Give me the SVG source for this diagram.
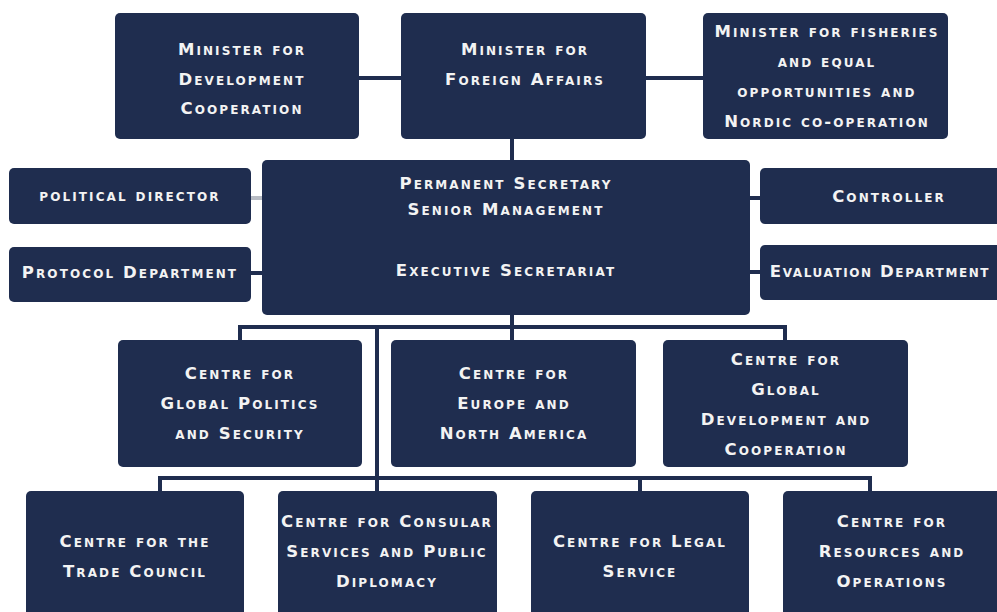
<svg xmlns="http://www.w3.org/2000/svg" width="997" height="612" viewBox="0 0 997 612">
<style>
.box{fill:#1f2d4f;}
.t{font-family:"DejaVu Sans","Liberation Sans",sans-serif;font-weight:bold;font-size:16.5px;font-variant:small-caps;letter-spacing:2.1px;fill:#f3f3f3;text-anchor:middle;}
.c{fill:none;stroke:#1f2d4f;stroke-width:4;stroke-linecap:square;stroke-linejoin:miter;}
.g{fill:none;stroke:#b8bcc4;stroke-width:4;}
</style>
<rect width="997" height="612" fill="#ffffff"/>
<g id="connectors">
<path class="c" d="M359 78H401M646 78H703M512 139V160"/>
<path class="g" d="M251 198H262"/>
<path class="c" d="M251 273H262M750 198H760M750 272H760"/>
<path class="c" d="M512 315V327M240 340V327H785V340M512 327V340M377 327V478"/>
<path class="c" d="M160 491V478H870V491M377 478V491M640 478V491"/>
</g>
<g id="min-dev"><rect class="box" x="115" y="13" width="244" height="126" rx="5"/>
<text class="t" x="242" y="55">Minister for</text><text class="t" x="242" y="85">Development</text><text class="t" x="242" y="114">Cooperation</text></g>
<g id="min-foreign"><rect class="box" x="401" y="13" width="245" height="126" rx="5"/>
<text class="t" x="525" y="55">Minister for</text><text class="t" x="525" y="85">Foreign Affairs</text></g>
<g id="min-fish"><rect class="box" x="703" y="13" width="245" height="126" rx="5"/>
<text class="t" x="827" y="37">Minister for fisheries</text><text class="t" x="827" y="67">and equal</text><text class="t" x="827" y="97">opportunities and</text><text class="t" x="827" y="127">Nordic co-operation</text></g>
<g id="perm-sec"><rect class="box" x="262" y="160" width="488" height="155" rx="5"/>
<text class="t" x="506" y="189">Permanent Secretary</text><text class="t" x="506" y="215">Senior Management</text><text class="t" x="506" y="276">Executive Secretariat</text></g>
<g id="political"><rect class="box" x="9" y="168" width="242" height="56" rx="5"/>
<text class="t" x="130" y="201">political director</text></g>
<g id="protocol"><rect class="box" x="9" y="247" width="242" height="55" rx="5"/>
<text class="t" x="130" y="278">Protocol Department</text></g>
<g id="controller"><rect class="box" x="760" y="168" width="260" height="56" rx="5"/>
<text class="t" x="889" y="202">Controller</text></g>
<g id="evaluation"><rect class="box" x="760" y="245" width="260" height="55" rx="5"/>
<text class="t" x="880" y="277" style="letter-spacing:1.6px">Evaluation Department</text></g>
<g id="c-global"><rect class="box" x="118" y="340" width="244" height="127" rx="5"/>
<text class="t" x="240" y="379">Centre for</text><text class="t" x="240" y="409">Global Politics</text><text class="t" x="240" y="439">and Security</text></g>
<g id="c-europe"><rect class="box" x="391" y="340" width="245" height="127" rx="5"/>
<text class="t" x="514" y="379">Centre for</text><text class="t" x="514" y="409">Europe and</text><text class="t" x="514" y="439">North America</text></g>
<g id="c-dev"><rect class="box" x="663" y="340" width="245" height="127" rx="5"/>
<text class="t" x="786" y="365">Centre for</text><text class="t" x="786" y="395">Global</text><text class="t" x="786" y="425">Development and</text><text class="t" x="786" y="455">Cooperation</text></g>
<g id="c-trade"><rect class="box" x="26" y="491" width="218" height="140" rx="5"/>
<text class="t" x="135" y="547">Centre for the</text><text class="t" x="135" y="577">Trade Council</text></g>
<g id="c-consular"><rect class="box" x="278" y="491" width="219" height="140" rx="5"/>
<text class="t" x="387" y="527">Centre for Consular</text><text class="t" x="387" y="557">Services and Public</text><text class="t" x="387" y="587">Diplomacy</text></g>
<g id="c-legal"><rect class="box" x="531" y="491" width="218" height="140" rx="5"/>
<text class="t" x="640" y="547">Centre for Legal</text><text class="t" x="640" y="577">Service</text></g>
<g id="c-resources"><rect class="box" x="783" y="491" width="230" height="140" rx="5"/>
<text class="t" x="892" y="527">Centre for</text><text class="t" x="892" y="557">Resources and</text><text class="t" x="892" y="587">Operations</text></g>
</svg>
